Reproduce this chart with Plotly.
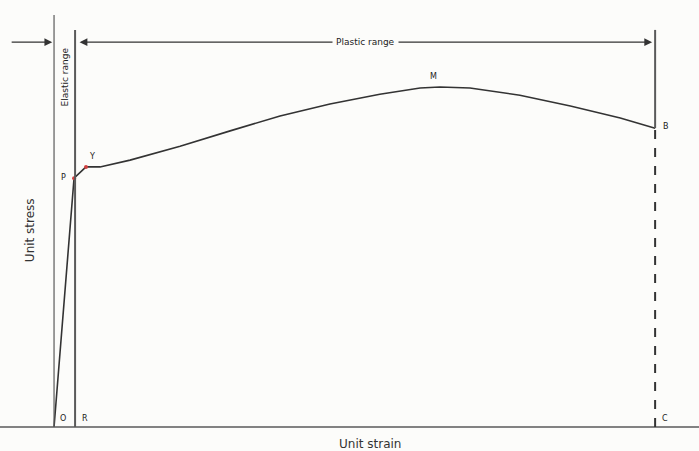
import plotly.graph_objects as go

# Stress-strain curve (strain in % of rupture strain, stress in % of ultimate)
strain = [0, 3.33, 5.32, 7.65, 12.65, 20.97, 29.3, 37.6, 45.9, 54.2, 60.9, 64.2, 69.2, 77.5, 85.9, 94.2, 100]
stress = [0, 73.2, 76.5, 76.5, 78.5, 82.6, 87.1, 91.5, 95.0, 97.9, 99.7, 100, 99.7, 97.6, 94.4, 90.9, 87.9]

key_labels = ["O", "R", "C", "P", "Y", "M", "B"]
key_x = [1.5, 5.2, 101.6, 1.5, 6.3, 63.2, 101.8]
key_y = [2.4, 2.4, 2.4, 73.5, 79.6, 103.2, 88.5]

elastic_limit_x = 3.5   # R
rupture_x = 100         # C
rupture_stress = 87.9
range_y = 113.2
top_y = 116.8

line_col = "#5a5a5a"
font_fam = "DejaVu Sans"
fig = go.Figure()

fig.add_trace(go.Scatter(x=strain, y=stress, mode="lines",
                         line=dict(color="#333333", width=1.6), hoverinfo="skip"))
fig.add_trace(go.Scatter(x=strain[1:3], y=stress[1:3], mode="markers",
                         marker=dict(color="#d04040", size=4), hoverinfo="skip"))

shapes = [
    dict(type="line", x0=0, x1=0, y0=0, y1=121.2, line=dict(color=line_col, width=1.2)),
    dict(type="line", x0=-9, x1=108, y0=0, y1=0, line=dict(color=line_col, width=1.6)),
    dict(type="line", x0=elastic_limit_x, x1=elastic_limit_x, y0=0, y1=top_y, line=dict(color=line_col, width=2)),
    dict(type="line", x0=rupture_x, x1=rupture_x, y0=rupture_stress, y1=top_y, line=dict(color=line_col, width=2)),
    dict(type="line", x0=rupture_x, x1=rupture_x, y0=0, y1=rupture_stress, line=dict(color="#333333", width=2, dash="dash")),
]

annotations = []
for t, x, y in zip(key_labels, key_x, key_y):
    annotations.append(dict(x=x, y=y, text=t, showarrow=False, xref="x", yref="y",
                            font=dict(size=8, color="#222222", family=font_fam)))

# Arrows
annotations.append(dict(x=-0.3, y=range_y, ax=-7.3, ay=range_y, xref="x", yref="y",
                        axref="x", ayref="y", showarrow=True, arrowhead=2, arrowsize=1.2,
                        arrowwidth=1.3, arrowcolor="#333333", text=""))
annotations.append(dict(x=99.5, y=range_y, ax=elastic_limit_x + 0.5, ay=range_y, xref="x", yref="y",
                        axref="x", ayref="y", showarrow=True, arrowhead=2, startarrowhead=2,
                        arrowside="end+start", arrowsize=1.2, startarrowsize=1.2,
                        arrowwidth=1.3, arrowcolor="#333333", text=""))
annotations.append(dict(x=51.8, y=range_y, text="Plastic range", showarrow=False,
                        bgcolor="#fcfcfa", borderpad=3,
                        font=dict(size=9, color="#222222", family=font_fam)))
annotations.append(dict(x=1.75, y=103.0, text="Elastic range", showarrow=False, textangle=-90,
                        font=dict(size=9, color="#222222", family=font_fam)))
annotations.append(dict(x=-4, y=57.9, text="Unit stress", showarrow=False, textangle=-90,
                        font=dict(size=12, color="#333333", family=font_fam)))
annotations.append(dict(x=52.6, y=-4.9, text="Unit strain", showarrow=False,
                        font=dict(size=12, color="#333333", family=font_fam)))

fig.update_layout(
    width=699, height=451,
    margin=dict(l=0, r=0, t=0, b=0),
    paper_bgcolor="#fcfcfa", plot_bgcolor="#fcfcfa",
    showlegend=False,
    xaxis=dict(range=[-8.99, 107.3], visible=False, fixedrange=True),
    yaxis=dict(range=[-7.06, 125.6], visible=False, fixedrange=True),
    shapes=shapes, annotations=annotations,
)

fig.write_html("out.html")
